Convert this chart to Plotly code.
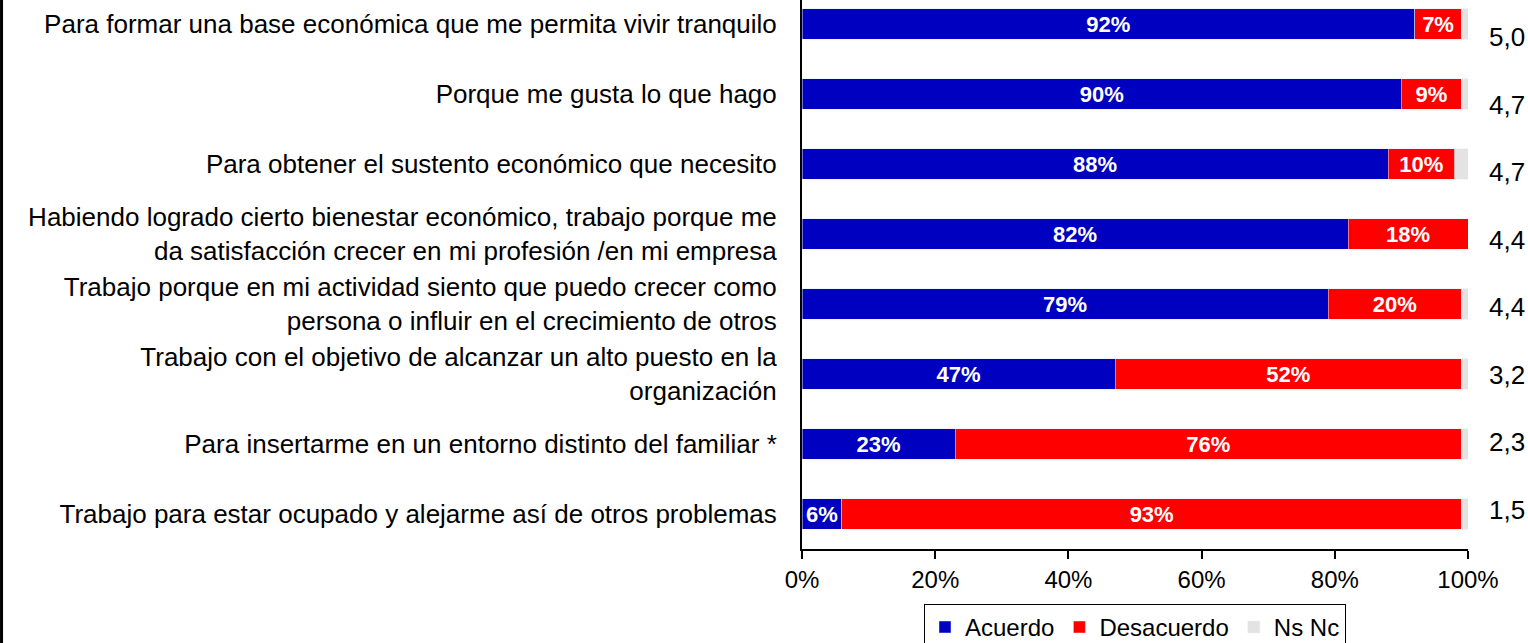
import plotly.graph_objects as go

categories = [
    "Para formar una base económica que me permita vivir tranquilo",
    "Porque me gusta lo que hago",
    "Para obtener el sustento económico que necesito",
    "Habiendo logrado cierto bienestar económico, trabajo porque me<br>da satisfacción crecer en mi profesión /en mi empresa",
    "Trabajo porque en mi actividad siento que puedo crecer como<br>persona o influir en el crecimiento de otros",
    "Trabajo con el objetivo de alcanzar un alto puesto en la<br>organización",
    "Para insertarme en un entorno distinto del familiar *",
    "Trabajo para estar ocupado y alejarme así de otros problemas",
]
acuerdo = [92, 90, 88, 82, 79, 47, 23, 6]
desacuerdo = [7, 9, 10, 18, 20, 52, 76, 93]
ns_nc = [1, 1, 2, 0, 1, 1, 1, 1]
promedio = ["5,0", "4,7", "4,7", "4,4", "4,4", "3,2", "2,3", "1,5"]
x_ticks = [0, 20, 40, 60, 80, 100]
x_ticktext = ["0%", "20%", "40%", "60%", "80%", "100%"]

# bottom-up order for the category axis
cats = categories[::-1]
font = "Liberation Sans, Arial, sans-serif"
bar_font = dict(color="white", size=22, family=font, weight="bold")

fig = go.Figure()
fig.add_trace(go.Bar(y=cats, x=acuerdo[::-1], name="Acuerdo", orientation="h",
                     marker_color="#0000C0", width=0.43,
                     text=[f"{v}%" for v in acuerdo[::-1]], textposition="inside",
                     insidetextanchor="middle", constraintext="none", textfont=bar_font))
fig.add_trace(go.Bar(y=cats, x=desacuerdo[::-1], name="Desacuerdo", orientation="h",
                     marker_color="#FF0000", width=0.43,
                     text=[f"{v}%" for v in desacuerdo[::-1]], textposition="inside",
                     insidetextanchor="middle", constraintext="none", textfont=bar_font))
fig.add_trace(go.Bar(y=cats, x=ns_nc[::-1], name="Ns Nc", orientation="h",
                     marker_color="#E3E3E3", width=0.43, textposition="none"))

# average score labels on the right
for i, (c, p) in enumerate(zip(categories, promedio)):
    fig.add_annotation(x=1.0586, y=c, xref="paper", yref="y", text=p,
                       xanchor="center", showarrow=False, yshift=-(13 - 2.43 * i),
                       font=dict(size=26, color="black", family=font))

# left frame line
fig.add_shape(type="line", xref="paper", yref="paper", x0=-1.2019, x1=-1.2019,
              y0=-0.2, y1=1.02, line=dict(color="black", width=3))

fig.update_layout(
    barmode="stack",
    width=1528, height=643,
    margin=dict(l=802, r=60, t=0, b=94, autoexpand=False),
    plot_bgcolor="white", paper_bgcolor="white",
    font=dict(family=font, color="black"),
    legend=dict(orientation="h", x=0.5, xanchor="center", y=-0.1, yanchor="top",
                bordercolor="black", borderwidth=1, font=dict(size=24),
                traceorder="normal", itemwidth=30),
)
fig.update_xaxes(range=[0, 100], tickvals=x_ticks, ticktext=x_ticktext,
                 showgrid=False, showline=True, linecolor="black", linewidth=2,
                 ticks="outside", tickcolor="black", ticklen=8, tickwidth=2,
                 tickfont=dict(size=24), zeroline=False)
fig.update_yaxes(range=[-0.5, 7.343], showgrid=False, showline=True, linecolor="black",
                 linewidth=2, ticks="", tickfont=dict(size=26), ticklabelstandoff=18)

fig.write_html("out.html", config={"displayModeBar": False},
               post_script="document.body.style.margin='0';")
